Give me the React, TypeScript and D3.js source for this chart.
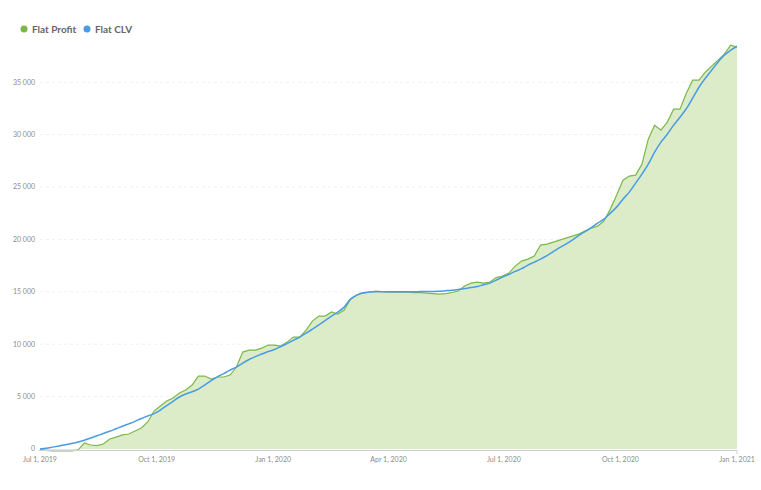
import React from "react";
import * as d3 from "d3";

const START_DATE = "2019-07-01";
const STEP_DAYS = 5;

const flatProfit = [
  0, -140, -190, -190, -190, -170, -100, 570, 380, 330,
  480, 950, 1140, 1340, 1430, 1720, 2000, 2580, 3620, 4100,
  4580, 4860, 5340, 5630, 6100, 6960, 6960, 6680, 6870, 6870,
  7060, 7820, 9250, 9440, 9440, 9630, 9920, 9920, 9820, 10200,
  10680, 10680, 11350, 12200, 12680, 12680, 13070, 12870, 13260, 14300,
  14690, 14880, 14970, 15070, 15020, 14970, 14970, 14970, 14970, 14930,
  14930, 14880, 14830, 14780, 14830, 14930, 15070, 15550, 15830, 15930,
  15830, 15930, 16360, 16500, 16790, 17450, 17930, 18120, 18410, 19460,
  19550, 19740, 19930, 20120, 20310, 20500, 20790, 21080, 21270, 21740,
  22890, 24220, 25650, 26040, 26130, 27180, 29560, 30900, 30420, 31190,
  32430, 32430, 33950, 35190, 35190, 35950, 36530, 37100, 37670, 38530,
  38340,
];

const flatCLV = [
  0, 70, 180, 290, 400, 520, 660, 840, 1050, 1260,
  1480, 1690, 1930, 2170, 2400, 2640, 2910, 3150, 3380, 3720,
  4150, 4550, 4960, 5250, 5460, 5720, 6100, 6530, 6890, 7200,
  7530, 7820, 8200, 8540, 8820, 9060, 9300, 9490, 9780, 10060,
  10370, 10680, 11060, 11440, 11850, 12250, 12680, 13070, 13540, 14300,
  14690, 14920, 14970, 15000, 15000, 15000, 15000, 15000, 15010, 15010,
  15020, 15030, 15040, 15060, 15100, 15140, 15210, 15310, 15400, 15510,
  15670, 15830, 16120, 16400, 16660, 16950, 17210, 17550, 17830, 18120,
  18450, 18840, 19220, 19550, 19930, 20360, 20740, 21120, 21550, 21930,
  22510, 23080, 23840, 24510, 25370, 26230, 27180, 28320, 29280, 30040,
  30900, 31660, 32470, 33470, 34520, 35380, 36150, 36910, 37580, 38050,
  38430,
];

const seriesNames = ["Flat Profit", "Flat CLV"];
const seriesColors = ["#7cb848", "#4a9be3"];
const yTicks = [0, 5000, 10000, 15000, 20000, 25000, 30000, 35000];
const xTickDates = ["2019-07-01", "2019-10-01", "2020-01-01", "2020-04-01", "2020-07-01", "2020-10-01", "2021-01-01"];

const W = 761;
const H = 490;
const left = 40;
const right = 737;
const top = 82.2;
const bottom = 449;

export default function App() {
  const start = new Date(START_DATE + "T00:00:00Z");
  const dates = flatProfit.map((_, i) => d3.utcDay.offset(start, i * STEP_DAYS));
  const x = d3
    .scaleUtc()
    .domain([start, new Date("2021-01-01T00:00:00Z")])
    .range([left, right]);
  const y = d3.scaleLinear().domain([0, 35000]).range([bottom, top]);

  const locale = d3.formatLocale({ decimal: ".", thousands: " ", grouping: [3], currency: ["", ""] });
  const fmtY = locale.format(",d");
  const fmtX = d3.utcFormat("%b %-d, %Y");

  const profitPts = dates.map((d, i) => [d, flatProfit[i]] as [Date, number]);
  const clvPts = dates.map((d, i) => [d, flatCLV[i]] as [Date, number]);

  const area = d3
    .area<[Date, number]>()
    .x((d) => x(d[0]))
    .y0(y(0))
    .y1((d) => y(d[1]));
  const line = d3
    .line<[Date, number]>()
    .x((d) => x(d[0]))
    .y((d) => y(d[1]));
  const smooth = d3
    .line<[Date, number]>()
    .x((d) => x(d[0]))
    .y((d) => y(d[1]))
    .curve(d3.curveMonotoneX);

  const font = "Lato, 'Open Sans', sans-serif";

  return (
    <svg
      width={W}
      height={H}
      style={{ position: "absolute", left: 0, top: 0, background: "#fff" }}
      fontFamily={font}
    >
      {yTicks.map((t) => (
        <g key={t}>
          {t > 0 && (
            <line
              x1={left}
              x2={right}
              y1={y(t)}
              y2={y(t)}
              stroke="#f0f0f0"
              strokeWidth={1}
              strokeDasharray="3,3"
            />
          )}
          <text x={35} y={y(t)} dy="0.35em" textAnchor="end" fontSize={7} fill="#8c8c8c">
            {fmtY(t)}
          </text>
        </g>
      ))}

      <path d={area(profitPts) ?? ""} fill="#dcecc9" />
      <path d={line(profitPts) ?? ""} fill="none" stroke={seriesColors[0]} strokeWidth={1.2} />
      <path d={smooth(clvPts) ?? ""} fill="none" stroke={seriesColors[1]} strokeWidth={1.5} />

      <line x1={left - 1} x2={right} y1={bottom + 1.5} y2={bottom + 1.5} stroke="#cfcfcf" strokeWidth={1} />
      <line x1={right} x2={right} y1={bottom + 1.5} y2={bottom + 5} stroke="#cfcfcf" strokeWidth={1} />

      {xTickDates.map((s) => {
        const d = new Date(s + "T00:00:00Z");
        return (
          <text key={s} x={x(d)} y={462} textAnchor="middle" fontSize={7} fill="#8c8c8c">
            {fmtX(d)}
          </text>
        );
      })}

      {seriesNames.map((n, i) => {
        const lx = [24, 87][i];
        return (
          <g key={n}>
            <circle cx={lx} cy={29} r={3.5} fill={seriesColors[i]} />
            <text x={lx + 8} y={29} dy="0.35em" fontSize={10} fontWeight={700} fill="#666">
              {n}
            </text>
          </g>
        );
      })}
    </svg>
  );
}
